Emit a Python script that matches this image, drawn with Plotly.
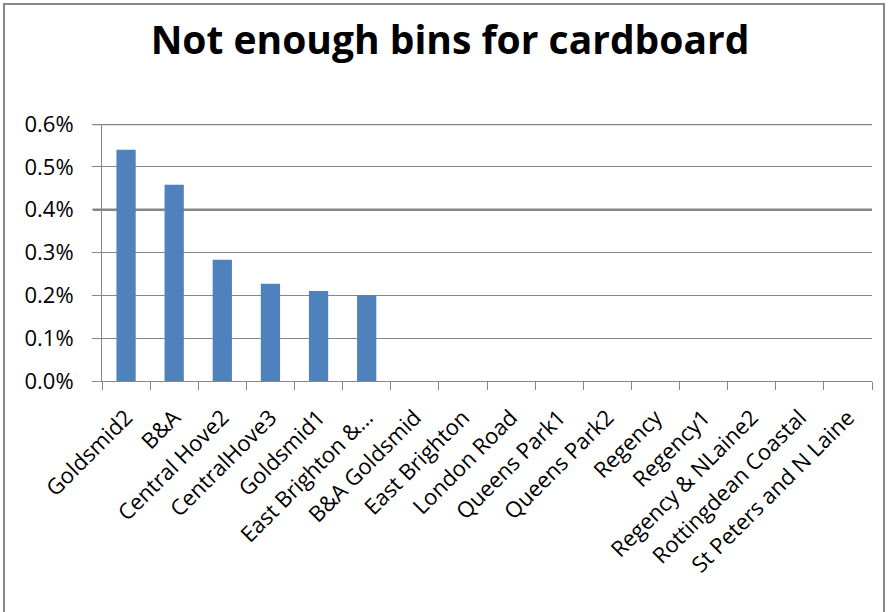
import plotly.graph_objects as go

categories = ["Goldsmid2", "B&A", "Central Hove2", "CentralHove3", "Goldsmid1",
              "East Brighton &…", "B&A Goldsmid", "East Brighton", "London Road",
              "Queens Park1", "Queens Park2", "Regency", "Regency1",
              "Regency & NLaine2", "Rottingdean Coastal", "St Peters and N Laine"]
values = [0.0054, 0.00458, 0.00283, 0.00227, 0.0021, 0.002,
          0, 0, 0, 0, 0, 0, 0, 0, 0, 0]
y_ticks = [0, 0.001, 0.002, 0.003, 0.004, 0.005, 0.006]
heavy_lines = [0.004, 0.006]

GRID = "#868686"

fig = go.Figure(go.Bar(x=categories, y=values, marker=dict(color="#4F81BD", line=dict(width=0))))

fig.update_layout(
    width=893, height=612,
    margin=dict(l=102, r=21, t=124, b=231),
    paper_bgcolor="white", plot_bgcolor="white",
    bargap=0.6,
    showlegend=False,
    title=dict(text="<b>Not enough bins for cardboard</b>", x=450 / 893, xref="container",
               y=1 - 40 / 612, yref="container", xanchor="center", yanchor="middle",
               font=dict(family="Open Sans", size=39, color="black")),
    font=dict(family="Open Sans", color="black"),
)
fig.update_xaxes(
    type="category", tickangle=-45, tickson="boundaries", ticks="outside", ticklen=8,
    tickcolor=GRID, showline=True, linecolor=GRID, linewidth=1,
    showgrid=False, ticklabelstandoff=14,
    tickfont=dict(size=22, family="Open Sans", color="black"),
)
fig.update_yaxes(
    range=[0, 0.006], tickvals=y_ticks, tickformat=".1%", ticks="outside", ticklen=9,
    tickcolor=GRID, showline=True, linecolor=GRID, linewidth=1,
    showgrid=True, gridcolor=GRID, gridwidth=1, zeroline=False,
    ticklabelstandoff=14,
    tickfont=dict(size=22, family="Open Sans", color="black"),
)
for yv in heavy_lines:
    fig.add_shape(type="line", xref="paper", yref="y", x0=-9/770, x1=1, y0=yv, y1=yv,
                  line=dict(color=GRID, width=2.5), layer="below")
# outer chart frame
fig.add_shape(type="rect", xref="paper", yref="paper",
              x0=(4-102)/770, x1=(884-102)/770, y0=(381-640)/257, y1=(381-4)/257,
              line=dict(color=GRID, width=2), fillcolor="rgba(0,0,0,0)", layer="below")

fig.write_html("out.html", config={"displayModeBar": False},
               post_script="document.body.style.margin='0';")
